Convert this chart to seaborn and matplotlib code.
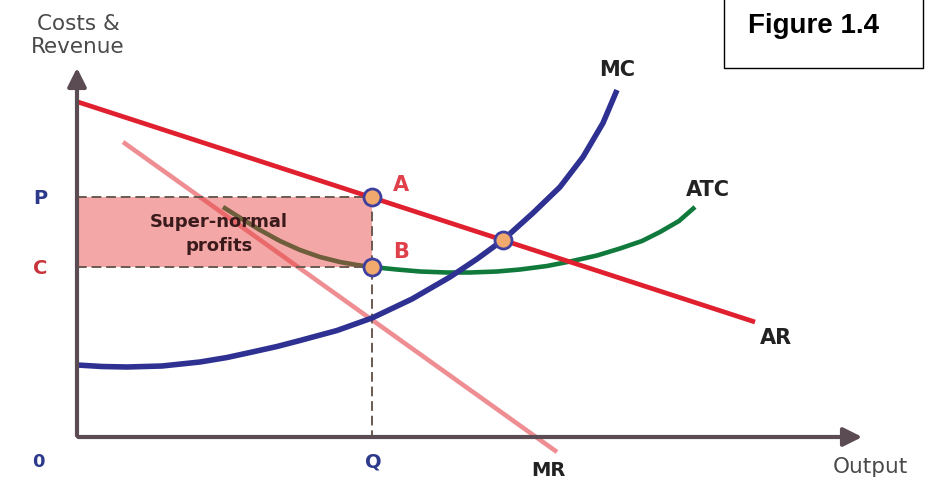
import numpy as np
import pandas as pd
import seaborn as sns
import matplotlib.pyplot as plt
from matplotlib.patches import Rectangle

# curve points (output units, cost units)
ar_x = [0.1, 67.8]
ar_y = [33.5, 11.5]

mr_x = [4.6, 48.0]
mr_y = [29.5, -1.5]

mc_x = [0.0, 2.5, 5.0, 8.5, 12.3, 15.0, 17.3, 20.0, 22.3, 26.0, 29.5, 33.5, 37.3,
        40.0, 42.6, 45.6, 48.3, 50.6, 52.6, 54.0]
mc_y = [7.2, 7.05, 7.0, 7.1, 7.5, 7.95, 8.45, 9.05, 9.65, 10.65, 11.9, 13.8, 16.0,
        17.8, 19.7, 22.4, 25.0, 28.0, 31.4, 34.7]

atc_x = [14.6, 16.5, 18.3, 20.3, 22.3, 24.3, 26.3, 28.0, 29.5, 32.0, 34.3, 37.0,
         39.3, 42.0, 44.3, 47.0, 49.3, 52.0, 54.3, 56.5, 58.3, 60.2, 61.8]
atc_y = [23.0, 21.8, 20.7, 19.6, 18.7, 18.0, 17.5, 17.2, 17.0, 16.75, 16.55, 16.45,
         16.45, 16.55, 16.75, 17.1, 17.55, 18.15, 18.85, 19.6, 20.5, 21.6, 23.0]

q_out = 29.5
p_price = 24.0
c_cost = 17.0
pts_x = [29.5, 29.5, 42.6]   # A, B, MC = AR
pts_y = [24.0, 17.0, 19.7]

sns.set_theme(style="white")
plt.rcParams['font.family'] = ['DejaVu Sans']

fig = plt.figure(figsize=(9.28, 4.8), dpi=100)
ax = fig.add_axes([0, 0, 1, 1])
ax.set_xlim(-7.7, 85.1)
ax.set_ylim(-4.3, 43.7)
ax.axis('off')

line_kw = dict(estimator=None, solid_capstyle="butt", solid_joinstyle="round")
sns.lineplot(x=mr_x, y=mr_y, ax=ax, color="#ee8e92", lw=3.3, zorder=2, **line_kw)
sns.lineplot(x=atc_x, y=atc_y, ax=ax, color="#0f7a3c", lw=3.3, zorder=2, **line_kw)

# super-normal profit area
ax.add_patch(Rectangle((0, c_cost), q_out, p_price - c_cost, facecolor="#e63c3c",
                       alpha=0.45, edgecolor="none", zorder=3))
dash = (0, (5, 2.5))
ax.plot([0, q_out], [p_price, p_price], color="#6a5a50", lw=1.4, ls=dash, zorder=3)
ax.plot([0, q_out], [c_cost, c_cost], color="#6a5a50", lw=1.4, ls=dash, zorder=3)
ax.plot([q_out, q_out], [p_price, 0], color="#6a5a50", lw=1.4, ls=dash, zorder=3)

sns.lineplot(x=ar_x, y=ar_y, ax=ax, color="#e0202e", lw=3.4, zorder=4, **line_kw)
sns.lineplot(x=mc_x, y=mc_y, ax=ax, color="#2e3192", lw=4.0, zorder=4, **line_kw)

# axes with arrow heads
axis_col = "#5b4b53"
ax.annotate("", xy=(0, 37.2), xytext=(0, -0.15),
            arrowprops=dict(arrowstyle="-|>", lw=3, color=axis_col, mutation_scale=28), zorder=5)
ax.annotate("", xy=(78.8, 0), xytext=(-0.15, 0),
            arrowprops=dict(arrowstyle="-|>", lw=3, color=axis_col, mutation_scale=28), zorder=5)

sns.scatterplot(x=pts_x, y=pts_y, ax=ax, s=150, color="#f2a96e", edgecolor="#3f3f9f",
                linewidth=2, zorder=6)

# labels
ax.text(0.1, 41.3, "Costs &", ha="center", va="center", fontsize=15.5, color="#4a4a4a")
ax.text(0.1, 39.0, "Revenue", ha="center", va="center", fontsize=15.5, color="#4a4a4a")
ax.text(-3.7, 23.9, "P", ha="center", va="center", fontsize=14, fontweight="bold", color="#2d3a8c")
ax.text(-3.7, 16.9, "C", ha="center", va="center", fontsize=14, fontweight="bold", color="#c8343c")
ax.text(-3.9, -2.5, "0", ha="center", va="center", fontsize=13, fontweight="bold", color="#2d3a8c")
ax.text(29.6, -2.5, "Q", ha="center", va="center", fontsize=14, fontweight="bold", color="#2d3a8c")
ax.text(47.1, -3.3, "MR", ha="center", va="center", fontsize=14, fontweight="bold", color="#222222")
ax.text(79.3, -3.0, "Output", ha="center", va="center", fontsize=15.5, color="#4a4a4a")
ax.text(54.0, 36.7, "MC", ha="center", va="center", fontsize=15, fontweight="bold", color="#222222")
ax.text(63.1, 24.7, "ATC", ha="center", va="center", fontsize=15, fontweight="bold", color="#222222")
ax.text(69.9, 9.9, "AR", ha="center", va="center", fontsize=15, fontweight="bold", color="#222222")
ax.text(32.4, 25.2, "A", ha="center", va="center", fontsize=15, fontweight="bold", color="#e0404a")
ax.text(32.4, 18.5, "B", ha="center", va="center", fontsize=15, fontweight="bold", color="#e0404a")
ax.text(14.2, 21.5, "Super-normal", ha="center", va="center", fontsize=13, fontweight="bold",
        color="#3a1a1a", zorder=7)
ax.text(14.2, 19.1, "profits", ha="center", va="center", fontsize=13, fontweight="bold",
        color="#3a1a1a", zorder=7)

# figure caption box
ax.add_patch(Rectangle((64.7, 36.9), 19.9, 7.0, facecolor="white", edgecolor="black",
                       lw=1, zorder=7))
ax.text(73.6, 41.1, "Figure 1.4", ha="center", va="center", fontsize=20, fontweight="bold",
        family=["Liberation Sans", "DejaVu Sans"], color="black", zorder=8)

fig.savefig("out.png", dpi=100)
